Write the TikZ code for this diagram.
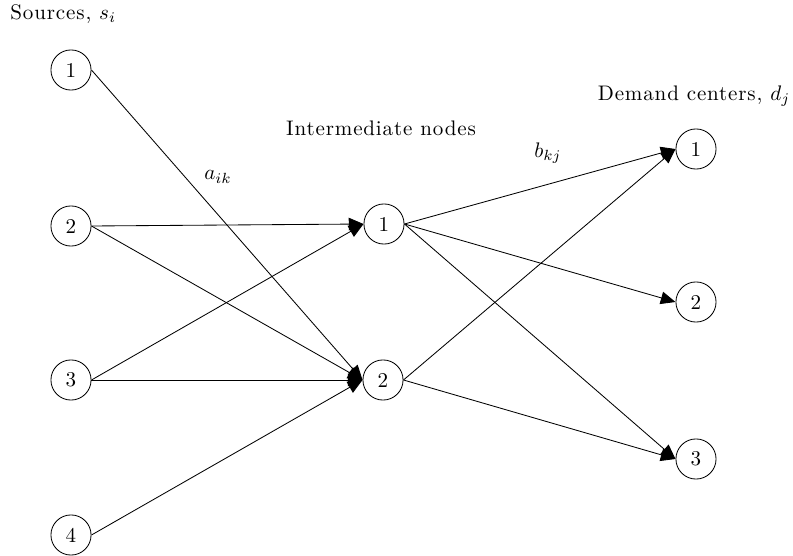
\documentclass[tikz,border=0pt]{standalone}
\usepackage{amsmath}
\usepackage{fontspec}
\setmainfont{Latin Modern Roman}[LetterSpace=4]
\usepackage{tikz}
\usetikzlibrary{arrows.meta,positioning,calc}

\tikzset{
  station/.style={circle, draw, minimum size=0.67cm, inner sep=0pt},
  flow/.style={-{Triangle[length=7pt,width=6pt]}},
  heading/.style={align=center}
}

\begin{document}
\begin{tikzpicture}[x=0.0167cm, y=-0.0167cm]
    \useasboundingbox (0,0) rectangle (793,556);
    % sources
    \node[station] (s1) at (71,70) {1};
    \node[station] (s2) at (71,226) {2};
    \node[station] (s3) at (71,380) {3};
    \node[station] (s4) at (71,535) {4};
    %%%%%%%%%%
    % intermediate nodes
    \node[station] (k1) at (384,224) {1};
    \node[station] (k2) at (383,380) {2};
    %%%%%%%%%%
    % demand centers
    \node[station] (d1) at (696,149) {1};
    \node[station] (d2) at (696,302) {2};
    \node[station] (d3) at (696,459) {3};
    %%%%%%%%%%
    \node[heading, anchor=west] (srclabel) at (3,14) {Sources, $s_i$};
    \node[heading] (midlabel) at (381,128) {Intermediate nodes};
    \node[heading] (dstlabel) at (694,96) {Demand centers, $d_j$};
    \node (aik) at (218,177) {$a_{ik}$};
    \node (bkj) at (548,153) {$b_{kj}$};
    %%%%%%%%%%
    \draw[flow] (s1.east) -- (k2.west);
    \draw[flow] (s2.east) -- (k1.west);
    \draw[flow] (s2.east) -- (k2.west);
    \draw[flow] (s3.east) -- (k1.west);
    \draw[flow] (s3.east) -- (k2.west);
    \draw[flow] (s4.east) -- (k2.west);
    \draw[flow] (k1.east) -- (d1.west);
    \draw[flow] (k1.east) -- (d2.west);
    \draw[flow] (k1.east) -- (d3.west);
    \draw[flow] (k2.east) -- (d1.west);
    \draw[flow] (k2.east) -- (d3.west);
\end{tikzpicture}
\end{document}
